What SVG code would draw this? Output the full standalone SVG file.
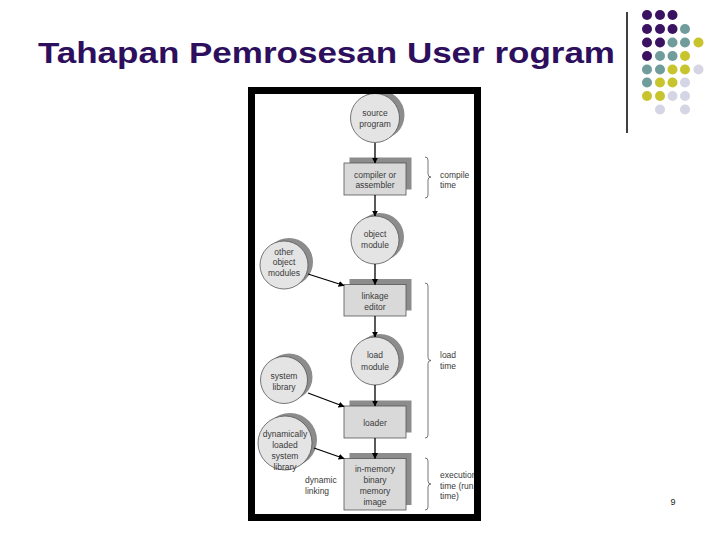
<svg xmlns="http://www.w3.org/2000/svg" width="720" height="540" viewBox="0 0 720 540">
<defs>
<style>
.t{font-family:"Liberation Sans",Arial,sans-serif;font-size:8.5px;fill:#3a3a3a;text-anchor:middle}
.tl{font-family:"Liberation Sans",Arial,sans-serif;font-size:8.5px;fill:#3a3a3a}
.c{fill:#e4e4e4;stroke:#555;stroke-width:0.8}
.cs{fill:#8c8c8c}
.b{fill:#d9d9d9;stroke:#555;stroke-width:0.8}
.bs{fill:#8c8c8c}
.e{stroke:#000;stroke-width:1.3;fill:none;marker-end:url(#ah)}
.br{stroke:#555;stroke-width:0.8;fill:none}
.pu{fill:#3b1261}.te{fill:#709c9c}.ye{fill:#c8c42e}.la{fill:#d5d5e5}
</style>
<marker id="ah" viewBox="0 0 10 10" refX="9" refY="5" markerWidth="6" markerHeight="6" orient="auto" markerUnits="userSpaceOnUse">
<path d="M0,0 L10,5 L0,10 z" fill="#000"/>
</marker>
<clipPath id="panel"><rect x="255" y="94" width="219" height="420"/></clipPath>
</defs>
<rect width="720" height="540" fill="#fff"/>
<text x="38" y="63" font-family="'Liberation Sans',Arial,sans-serif" font-weight="bold" font-size="29" fill="#2e0f5e" textLength="577" lengthAdjust="spacingAndGlyphs">Tahapan Pemrosesan User rogram</text>
<line x1="627" y1="12" x2="627" y2="133" stroke="#000" stroke-width="1.5"/>
<g id="dots">
<circle class="pu" cx="647" cy="15" r="5"/><circle class="pu" cx="660" cy="15" r="5"/><circle class="pu" cx="672.5" cy="15" r="5"/>
<circle class="pu" cx="647" cy="29" r="5"/><circle class="pu" cx="660" cy="29" r="5"/><circle class="pu" cx="672.5" cy="29" r="5"/><circle class="te" cx="685" cy="29" r="5"/>
<circle class="pu" cx="647" cy="42.5" r="5"/><circle class="pu" cx="660" cy="42.5" r="5"/><circle class="te" cx="672.5" cy="42.5" r="5"/><circle class="te" cx="685" cy="42.5" r="5"/><circle class="ye" cx="698.5" cy="42.5" r="5"/>
<circle class="pu" cx="647" cy="56" r="5"/><circle class="te" cx="660" cy="56" r="5"/><circle class="te" cx="672.5" cy="56" r="5"/><circle class="ye" cx="685" cy="56" r="5"/>
<circle class="te" cx="647" cy="69.5" r="5"/><circle class="te" cx="660" cy="69.5" r="5"/><circle class="ye" cx="672.5" cy="69.5" r="5"/><circle class="ye" cx="685" cy="69.5" r="5"/><circle class="la" cx="698.5" cy="69.5" r="5"/>
<circle class="te" cx="647" cy="82.5" r="5"/><circle class="ye" cx="660" cy="82.5" r="5"/><circle class="ye" cx="672.5" cy="82.5" r="5"/><circle class="la" cx="685" cy="82.5" r="5"/>
<circle class="ye" cx="647" cy="96" r="5"/><circle class="ye" cx="660" cy="96" r="5"/><circle class="la" cx="672.5" cy="96" r="5"/><circle class="la" cx="685" cy="96" r="5"/>
<circle class="la" cx="660" cy="109.5" r="5"/><circle class="la" cx="685" cy="109.5" r="5"/>
</g>
<rect x="251.5" y="90.5" width="226" height="427" fill="#fff"/>
<g clip-path="url(#panel)">
<g id="source">
<circle class="cs" cx="380" cy="115" r="24.5"/><circle class="c" cx="375" cy="118" r="24.5"/>
<text class="t" x="375" y="116">source</text><text class="t" x="375" y="127">program</text>
</g>
<g id="compiler">
<rect class="bs" x="349.5" y="157.5" width="62" height="32"/><rect class="b" x="344" y="163" width="62" height="32"/>
<text class="t" x="375" y="178">compiler or</text><text class="t" x="375" y="188">assembler</text>
</g>
<g id="object">
<circle class="cs" cx="380" cy="237" r="24"/><circle class="c" cx="375" cy="240" r="24"/>
<text class="t" x="375" y="237">object</text><text class="t" x="375" y="248">module</text>
</g>
<g id="other">
<circle class="cs" cx="289" cy="262" r="24"/><circle class="c" cx="284" cy="265" r="24"/>
<text class="t" x="284" y="254.5">other</text><text class="t" x="284" y="265">object</text><text class="t" x="284" y="276">modules</text>
</g>
<g id="linkage">
<rect class="bs" x="349.5" y="279" width="62" height="31.5"/><rect class="b" x="344" y="284.5" width="62" height="31.5"/>
<text class="t" x="375" y="299">linkage</text><text class="t" x="375" y="309.5">editor</text>
</g>
<g id="load">
<circle class="cs" cx="380" cy="358" r="24"/><circle class="c" cx="375" cy="361" r="24"/>
<text class="t" x="375" y="358">load</text><text class="t" x="375" y="369.5">module</text>
</g>
<g id="syslib">
<circle class="cs" cx="289" cy="377" r="23.5"/><circle class="c" cx="284" cy="380" r="23.5"/>
<text class="t" x="284" y="379">system</text><text class="t" x="284" y="390">library</text>
</g>
<g id="loader">
<rect class="bs" x="349.5" y="400.5" width="62" height="32"/><rect class="b" x="344" y="406" width="62" height="32"/>
<text class="t" x="375" y="425.5">loader</text>
</g>
<g id="dynlib">
<circle class="cs" cx="290" cy="440" r="27"/><circle class="c" cx="285" cy="443" r="27"/>
<text class="t" x="285" y="437">dynamically</text><text class="t" x="285" y="448">loaded</text><text class="t" x="285" y="459">system</text><text class="t" x="285" y="469.5">library</text>
</g>
<g id="memimage">
<rect class="bs" x="349.5" y="453" width="62" height="52"/><rect class="b" x="344" y="458.5" width="62" height="51.5"/>
<text class="t" x="375" y="472">in-memory</text><text class="t" x="375" y="483">binary</text><text class="t" x="375" y="493.5">memory</text><text class="t" x="375" y="504.5">image</text>
</g>
<g id="connectors">
<line class="e" x1="375" y1="143" x2="375" y2="163"/>
<line class="e" x1="375" y1="195" x2="375" y2="216"/>
<line class="e" x1="375" y1="264" x2="375" y2="284.5"/>
<line class="e" x1="308" y1="274" x2="344" y2="285.5"/>
<line class="e" x1="375" y1="316" x2="375" y2="337"/>
<line class="e" x1="375" y1="385" x2="375" y2="406"/>
<line class="e" x1="308" y1="393" x2="344" y2="406.5"/>
<line class="e" x1="375" y1="438" x2="375" y2="458.5"/>
<line class="e" x1="314" y1="448" x2="344" y2="458.5"/>
</g>
<text class="tl" x="305" y="483">dynamic</text><text class="tl" x="305" y="493.5">linking</text>
<path class="br" d="M425,157 Q428,157 428,160 L428,174 Q428,177 431,177 Q428,177 428,180 L428,195 Q428,198 425,198"/>
<text class="tl" x="440" y="178">compile</text><text class="tl" x="440" y="188">time</text>
<path class="br" d="M425,283 Q428,283 428,286 L428,357.5 Q428,360.5 431,360.5 Q428,360.5 428,363.5 L428,435 Q428,438 425,438"/>
<text class="tl" x="440" y="358">load</text><text class="tl" x="440" y="369">time</text>
<path class="br" d="M425,458 Q428,458 428,461 L428,481 Q428,484 431,484 Q428,484 428,487 L428,507 Q428,510 425,510"/>
<text class="tl" x="440" y="478">execution</text><text class="tl" x="440" y="488.5">time  (run</text><text class="tl" x="440" y="498.5">time)</text>
</g>
<rect x="251.5" y="90.5" width="226" height="427" fill="none" stroke="#000" stroke-width="7"/>
<text x="673" y="505" font-family="'Liberation Sans',Arial,sans-serif" font-size="9" fill="#222" text-anchor="middle">9</text>
</svg>
